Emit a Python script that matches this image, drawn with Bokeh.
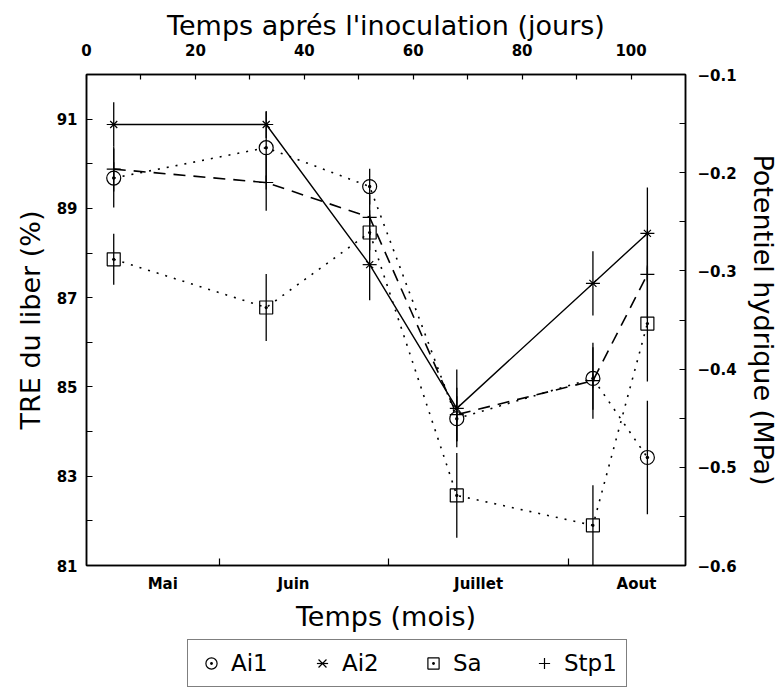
from bokeh.plotting import figure
from bokeh.models import (LinearAxis, Range1d, FixedTicker, ColumnDataSource,
                          Legend, LegendItem)
from bokeh.layouts import column
from bokeh.embed import file_html
from bokeh.resources import INLINE

# ---- data ----
days = [5, 33, 52, 68, 93, 103]            # jours après l'inoculation
ai1 = [89.68, 90.36, 89.49, 84.29, 85.19, 83.42]
ai1_err = [0.66, 0.8, 0.4, 0.5, 0.7, 1.27]
ai2 = [90.88, 90.88, 87.74, 84.52, 87.32, 88.44]
ai2_err = [0.5, 0.3, 0.8, 0.87, 0.72, 1.03]
sa = [87.86, 86.78, 88.46, 82.57, 81.90, 86.42]
sa_err = [0.57, 0.75, 0.4, 0.95, 0.9, 1.3]
stp1 = [89.88, 89.58, 88.80, 84.38, 85.14, 87.52]
stp1_err = [0.5, 0.63, 0.5, 0.6, 0.85, 1.0]

top_ticks = [0, 20, 40, 60, 80, 100]
top_minor = [10, 30, 50, 70, 90]
month_names = ["Mai", "Juin", "Juillet", "Aout"]
month_label_pos = [14, 38, 72, 101]
month_bounds = [24.5, 55.5, 88.5]
left_ticks = [81, 83, 85, 87, 89, 91]
left_minor = [82, 84, 86, 88, 90]
right_ticks = [-0.6, -0.5, -0.4, -0.3, -0.2, -0.1]
right_minor = [-0.55, -0.45, -0.35, -0.25, -0.15]

FONT = "DejaVu Sans"

p = figure(width=782, height=639, x_range=Range1d(0, 110), y_range=Range1d(81, 92),
           x_axis_location="above", output_backend="svg", toolbar_location=None,
           min_border_left=86, min_border_right=97, min_border_top=74,
           min_border_bottom=74)
p.grid.visible = False
p.outline_line_color = "black"
p.outline_line_width = 1.5
p.background_fill_color = "white"
p.border_fill_color = "white"

p.extra_y_ranges = {"psi": Range1d(-0.6, -0.1)}


def style_axis(ax, standoff, title_standoff):
    ax.axis_line_color = "black"
    ax.axis_line_width = 1.5
    ax.major_tick_in = 6
    ax.major_tick_out = 0
    ax.minor_tick_in = 6
    ax.minor_tick_out = 0
    ax.major_tick_line_width = 1.2
    ax.minor_tick_line_width = 1.2
    ax.major_label_text_font = FONT
    ax.major_label_text_font_style = "bold"
    ax.major_label_text_font_size = "15px"
    ax.major_label_text_color = "black"
    ax.major_label_standoff = standoff
    ax.axis_label_text_font = FONT
    ax.axis_label_text_font_style = "normal"
    ax.axis_label_text_font_size = "27px"
    ax.axis_label_text_color = "black"
    ax.axis_label_standoff = title_standoff


# top axis (jours)
top = p.xaxis[0]
top.ticker = FixedTicker(ticks=top_ticks, minor_ticks=top_minor)
top.axis_label = "Temps aprés l'inoculation (jours)"
style_axis(top, 19, 0)
top.major_tick_in = 5
top.minor_tick_in = 5

# left axis (TRE)
left = p.yaxis[0]
left.ticker = FixedTicker(ticks=left_ticks, minor_ticks=left_minor)
left.axis_label = "TRE du liber (%)"
style_axis(left, 9, 8)

# bottom axis (months)
bottom = LinearAxis(ticker=FixedTicker(ticks=month_label_pos, minor_ticks=month_bounds),
                    major_label_overrides={k: v for k, v in zip(month_label_pos, month_names)},
                    axis_label="Temps (mois)")
style_axis(bottom, 9, 5)
bottom.major_tick_in = 0
bottom.minor_tick_in = 7
p.add_layout(bottom, "below")

# right axis (potentiel hydrique)
right = LinearAxis(y_range_name="psi",
                   ticker=FixedTicker(ticks=right_ticks, minor_ticks=right_minor),
                   axis_label="Potentiel hydrique (MPa)")
style_axis(right, 12, 8)
p.add_layout(right, "right")

# ---- legend panel (separate strip below the chart) ----
leg = figure(width=782, height=48, x_range=Range1d(0, 1), y_range=Range1d(0, 1),
             x_axis_location=None, y_axis_location=None, output_backend="svg",
             toolbar_location=None, min_border=0)
leg.grid.visible = False
leg.outline_line_color = None
leg.background_fill_color = "white"
leg.border_fill_color = "white"

# ---- series ----
series = [
    ("Ai1", ai1, ai1_err, "2 7", 1.6),
    ("Ai2", ai2, ai2_err, "solid", 1.4),
    ("Sa", sa, sa_err, "2 7", 1.6),
    ("Stp1", stp1, stp1_err, "12 8", 1.6),
]
styles = {
    "Ai1": [dict(marker="circle_dot", size=14, fill_alpha=0)],
    "Ai2": [dict(marker="x", size=10), dict(marker="dash", size=14)],
    "Sa": [dict(marker="square_dot", size=13, fill_alpha=0)],
    "Stp1": [dict(marker="cross", size=14)],
}
legend_r = {}
for name, vals, errs, dash, lw in series:
    src = ColumnDataSource(dict(x=days, y=vals,
                                lo=[v - e for v, e in zip(vals, errs)],
                                hi=[v + e for v, e in zip(vals, errs)]))
    p.segment(x0="x", y0="lo", x1="x", y1="hi", source=src,
              line_color="black", line_width=1.3)
    p.line("x", "y", source=src, line_color="black", line_width=lw, line_dash=dash)
    legend_r[name] = []
    for st in styles[name]:
        p.scatter("x", "y", source=src, line_color="black", line_width=1.2, **st)
        # off-range copy, only used to draw the legend key in the strip below
        legend_r[name].append(leg.scatter(x=[-5], y=[-5], line_color="black",
                                          line_width=1.2, **st))

legend = Legend(items=[LegendItem(label=n, renderers=legend_r[n]) for n, *_ in series],
                orientation="horizontal", location=(101, 0),
                border_line_color="black", border_line_width=1.5,
                label_text_font=FONT, label_text_font_size="23px",
                label_text_color="black", glyph_width=28, glyph_height=28,
                label_standoff=6, spacing=31, padding=9, margin=0,
                label_width=46, label_height=24, background_fill_alpha=1)
leg.add_layout(legend, "center")

open("out.html", "w").write(file_html(column(p, leg, spacing=0), INLINE))
